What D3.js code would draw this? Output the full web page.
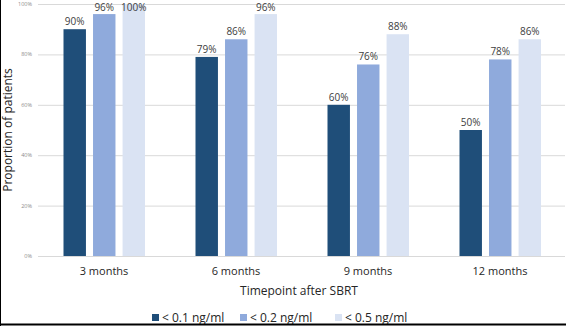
<!DOCTYPE html>
<html>
<head>
<meta charset="utf-8">
<script src="https://cdn.jsdelivr.net/npm/d3@7"></script>
<style>
  body { margin: 0; background: #fff; }
  text { font-family: "Open Sans", "DejaVu Sans", sans-serif; }
</style>
</head>
<body>
<script>
// Chart data
var timepoints = ["3 months", "6 months", "9 months", "12 months"];
var seriesNames = ["< 0.1 ng/ml", "< 0.2 ng/ml", "< 0.5 ng/ml"];
var below01 = [90, 79, 60, 50];
var below02 = [96, 86, 76, 78];
var below05 = [100, 96, 88, 86];
var yTicks = [0, 20, 40, 60, 80, 100];

var seriesValues = [below01, below02, below05];
var colors = ["#1f4e79", "#8faadc", "#dae3f3"];

var width = 566,
    height = 326;

var svg = d3.select("body")
    .append("svg")
    .attr("width", width)
    .attr("height", height);

// scales
var x0 = d3.scaleBand()
    .domain(timepoints)
    .range([38, 566]);

var x1 = d3.scaleBand()
    .domain(seriesNames)
    .range([25.5, 107])
    .paddingInner(0.24);

var y = d3.scaleLinear()
    .domain([0, 100])
    .range([256, 4]);

// gridlines
svg.selectAll(".grid")
    .data(yTicks)
    .enter()
    .append("line")
    .attr("class", "grid")
    .attr("x1", 38)
    .attr("x2", 565)
    .attr("y1", function(d){ return y(d) + 0.5; })
    .attr("y2", function(d){ return y(d) + 0.5; })
    .attr("stroke", "#d9d9d9")
    .attr("stroke-width", 1);

// y tick labels
svg.selectAll(".ytick")
    .data(yTicks)
    .enter()
    .append("text")
    .attr("class", "ytick")
    .attr("x", 32)
    .attr("y", function(d){ return y(d) + 2; })
    .attr("text-anchor", "end")
    .attr("font-size", 5.5)
    .attr("fill", "#8c8c8c")
    .text(function(d){ return d + "%"; });

// bars
var rows = [];
timepoints.forEach(function(t, i){
  seriesNames.forEach(function(s, j){
    rows.push({ time: t, series: s, value: seriesValues[j][i], color: colors[j] });
  });
});

svg.selectAll(".bar")
    .data(rows)
    .enter()
    .append("rect")
    .attr("class", "bar")
    .attr("x", function(d){ return x0(d.time) + x1(d.series); })
    .attr("y", function(d){ return y(d.value); })
    .attr("width", x1.bandwidth())
    .attr("height", function(d){ return y(0) - y(d.value); })
    .attr("fill", function(d){ return d.color; });

// value labels (kept inside the top edge)
svg.selectAll(".lbl")
    .data(rows)
    .enter()
    .append("text")
    .attr("class", "lbl")
    .attr("x", function(d){ return x0(d.time) + x1(d.series) + x1.bandwidth() / 2; })
    .attr("y", function(d){ return Math.max(y(d.value) - 4, 11); })
    .attr("text-anchor", "middle")
    .attr("font-size", 10)
    .attr("fill", "#404040")
    .text(function(d){ return d.value + "%"; });

// x category labels
svg.selectAll(".xtick")
    .data(timepoints)
    .enter()
    .append("text")
    .attr("class", "xtick")
    .attr("x", function(d){ return x0(d) + x0.bandwidth() / 2; })
    .attr("y", 275)
    .attr("text-anchor", "middle")
    .attr("font-size", 11)
    .attr("fill", "#262626")
    .text(function(d){ return d; });

// axis titles
svg.append("text")
    .attr("x", 299)
    .attr("y", 295)
    .attr("text-anchor", "middle")
    .attr("font-size", 12)
    .attr("fill", "#262626")
    .text("Timepoint after SBRT");

svg.append("text")
    .attr("transform", "translate(12,130) rotate(-90)")
    .attr("text-anchor", "middle")
    .attr("font-size", 12)
    .attr("fill", "#262626")
    .text("Proportion of patients");

// legend
var legendX = [152, 240, 335];
var legend = svg.selectAll(".legend")
    .data(seriesNames)
    .enter()
    .append("g")
    .attr("class", "legend")
    .attr("transform", function(d, i){ return "translate(" + legendX[i] + ",314)"; });

legend.append("rect")
    .attr("width", 7)
    .attr("height", 7)
    .attr("fill", function(d, i){ return colors[i]; });

legend.append("text")
    .attr("x", 10)
    .attr("y", 8)
    .attr("font-size", 12)
    .attr("fill", "#262626")
    .text(function(d){ return d; });

// frame lines (left and bottom)
svg.append("line")
    .attr("x1", 0.5).attr("x2", 0.5)
    .attr("y1", 0).attr("y2", height)
    .attr("stroke", "#000");
svg.append("line")
    .attr("x1", 0).attr("x2", width)
    .attr("y1", height - 1.5).attr("y2", height - 1.5)
    .attr("stroke", "#000")
    .attr("stroke-width", 2);
</script>
</body>
</html>
